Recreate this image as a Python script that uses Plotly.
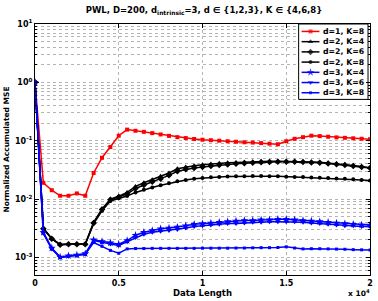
import plotly.graph_objects as go

# ---------------- data ----------------
data_length = list(range(0, 20001, 500))

mse_d1_k8 = [1, 0.019, 0.0142, 0.0114, 0.0114, 0.0125, 0.0114, 0.028, 0.051, 0.078,
             0.122, 0.155, 0.148, 0.142, 0.135, 0.128, 0.121, 0.115, 0.111, 0.107,
             0.104, 0.102, 0.100, 0.098, 0.096, 0.094, 0.093, 0.091, 0.089, 0.087,
             0.098, 0.108, 0.115, 0.122, 0.120, 0.117, 0.114, 0.112, 0.110, 0.108, 0.106]

mse_d2_k4 = [1, 0.0032, 0.0021, 0.00167, 0.0017, 0.0017, 0.0017, 0.0040, 0.0068, 0.0100,
             0.0112, 0.0130, 0.0165, 0.0190, 0.0215, 0.0245, 0.0280, 0.0330, 0.0355, 0.0372,
             0.0388, 0.0400, 0.0410, 0.0418, 0.0425, 0.0432, 0.0438, 0.0443, 0.0445, 0.0446,
             0.0445, 0.0442, 0.0437, 0.0432, 0.0426, 0.0415, 0.0402, 0.0388, 0.0375, 0.0360, 0.0345]

mse_d2_k6 = [1, 0.0031, 0.0021, 0.00165, 0.00168, 0.00168, 0.00168, 0.0039, 0.0066, 0.0097,
             0.0108, 0.0122, 0.0152, 0.0175, 0.0198, 0.0224, 0.0255, 0.0300, 0.0325, 0.0342,
             0.0356, 0.0370, 0.0382, 0.0393, 0.0403, 0.0412, 0.0420, 0.0427, 0.0432, 0.0435,
             0.0436, 0.0434, 0.0430, 0.0425, 0.0418, 0.0408, 0.0396, 0.0383, 0.0370, 0.0356, 0.0342]

mse_d2_k8 = [1, 0.0031, 0.0021, 0.00165, 0.00168, 0.00168, 0.00168, 0.0038, 0.0063, 0.0093,
             0.0103, 0.0113, 0.0130, 0.0145, 0.0158, 0.0172, 0.0186, 0.0203, 0.0213, 0.0222,
             0.0230, 0.0236, 0.0240, 0.0244, 0.0246, 0.0247, 0.0248, 0.0248, 0.0247, 0.0245,
             0.0242, 0.0240, 0.0238, 0.0235, 0.0232, 0.0229, 0.0225, 0.0222, 0.0218, 0.0213, 0.0208]

mse_d3_k4 = [1, 0.0027, 0.00145, 0.00102, 0.00107, 0.0011, 0.00116, 0.0020, 0.00188, 0.00178,
             0.00168, 0.00195, 0.0024, 0.0027, 0.0029, 0.0031, 0.0032, 0.0033, 0.0035, 0.0037,
             0.0038, 0.0039, 0.0040, 0.0041, 0.0042, 0.0043, 0.0043, 0.0044, 0.0044, 0.0045,
             0.0045, 0.0044, 0.0043, 0.0042, 0.0041, 0.0040, 0.0039, 0.0038, 0.0037, 0.0036, 0.0036]

mse_d3_k6 = [1, 0.0026, 0.0014, 0.0010, 0.00105, 0.00108, 0.00113, 0.00195, 0.0018, 0.0017,
             0.0016, 0.00185, 0.0022, 0.0025, 0.0027, 0.0028, 0.0029, 0.0030, 0.0032, 0.0034,
             0.0035, 0.0036, 0.0037, 0.0038, 0.0038, 0.0039, 0.0040, 0.0040, 0.0041, 0.0041,
             0.0041, 0.0041, 0.0040, 0.0039, 0.0038, 0.0037, 0.0036, 0.0035, 0.0035, 0.0034, 0.0034]

mse_d3_k8 = [1, 0.0026, 0.0014, 0.0010, 0.00105, 0.00108, 0.00113, 0.0018, 0.00155, 0.00132,
             0.00118, 0.0014, 0.00142, 0.00142, 0.00143, 0.00143, 0.00143, 0.00143, 0.00143, 0.00143,
             0.00144, 0.00144, 0.00144, 0.00144, 0.00145, 0.00145, 0.00146, 0.00147, 0.00147, 0.00148,
             0.00152, 0.00145, 0.0014, 0.00141, 0.00141, 0.0014, 0.00139, 0.00138, 0.00136, 0.00135, 0.00134]

series_names = ["d=1, K=8", "d=2, K=4", "d=2, K=6", "d=2, K=8",
                "d=3, K=4", "d=3, K=6", "d=3, K=8"]
series_values = [mse_d1_k8, mse_d2_k4, mse_d2_k6, mse_d2_k8,
                 mse_d3_k4, mse_d3_k6, mse_d3_k8]

x_tick_vals = [0, 5000, 10000, 15000, 20000]
x_tick_text = ["0", "0.5", "1", "1.5", "2"]
y_tick_vals = [1e-3, 1e-2, 1e-1, 1, 10]
y_tick_text = ["10<sup>-3</sup>", "10<sup>-2</sup>", "10<sup>-1</sup>", "10<sup>0</sup>", "10<sup>1</sup>"]

# ---------------- styles ----------------
styles = [
    dict(color="#ff0000", symbol="square", size=4),
    dict(color="#000000", symbol="triangle-up", size=5),
    dict(color="#000000", symbol="diamond", size=5),
    dict(color="#000000", symbol="circle", size=4),
    dict(color="#0000ff", symbol="star", size=6),
    dict(color="#0000ff", symbol="triangle-down", size=5),
    dict(color="#0000ff", symbol="square", size=3),
]

W, H = 378, 301
L, R, T, B = 35, 373, 24, 277
FONT = "DejaVu Sans"

fig = go.Figure()
for name, vals, st in zip(series_names, series_values, styles):
    fig.add_trace(go.Scatter(
        x=data_length, y=vals, mode="lines+markers", name=name, showlegend=False,
        line=dict(color=st["color"], width=1.5),
        marker=dict(color=st["color"], symbol=st["symbol"], size=st["size"],
                    line=dict(width=0)),
    ))

# ---------------- custom legend (matlab-like) ----------------
def px_x(p):
    return (p - L) / (R - L)

def px_y(p):
    return (B - p) / (B - T)

lg_x0, lg_x1, lg_y0, lg_y1 = 301, 371, 24, 100
fig.add_trace(go.Scatter(
    x=[px_x(lg_x0), px_x(lg_x1), px_x(lg_x1), px_x(lg_x0), px_x(lg_x0)],
    y=[px_y(lg_y0), px_y(lg_y0), px_y(lg_y1), px_y(lg_y1), px_y(lg_y0)],
    mode="lines", fill="toself", fillcolor="white",
    line=dict(color="black", width=1), xaxis="x2", yaxis="y2",
    hoverinfo="skip", showlegend=False))

for i, (name, st) in enumerate(zip(series_names, styles)):
    ry = 31.5 + 10.3 * i
    fig.add_trace(go.Scatter(
        x=[px_x(304), px_x(313), px_x(322)], y=[px_y(ry)] * 3,
        mode="lines+markers", xaxis="x2", yaxis="y2", showlegend=False,
        hoverinfo="skip",
        line=dict(color=st["color"], width=1.5),
        marker=dict(color=st["color"], symbol=st["symbol"], size=[0, st["size"], 0],
                    line=dict(width=0))))
    fig.add_annotation(x=px_x(324), y=px_y(ry), xref="paper", yref="paper",
                       text=name, showarrow=False, xanchor="left", yanchor="middle",
                       font=dict(family=FONT, size=7.8, color="black", weight="bold"))

# ---------------- layout ----------------
grid = dict(gridcolor="#b4b4b4", griddash="dot", gridwidth=1)
minor_vals = [m * 10.0 ** e for e in range(-4, 1) for m in range(2, 10)]

fig.update_layout(
    width=W, height=H,
    margin=dict(l=L, r=W - R, t=T, b=H - B, pad=0),
    paper_bgcolor="white", plot_bgcolor="white",
    font=dict(family=FONT, size=8, color="black", weight="bold"),
    title=dict(text="PWL, D=200, d<sub>intrinsic</sub>=3, d \u2208 {1,2,3}, K \u2208 {4,6,8}",
               x=(0.5 * (L + R)) / W, xanchor="center", y=1 - 10 / H, yanchor="middle",
               font=dict(family=FONT, size=8.5, weight="bold")),
    xaxis=dict(range=[0, 20000], tickvals=x_tick_vals, ticktext=x_tick_text,
               showline=True, linecolor="black", linewidth=1, mirror="ticks",
               ticks="inside", ticklen=4, tickcolor="black", zeroline=False,
               showgrid=True, **grid,
               title=dict(text="Data Length", standoff=2,
                          font=dict(family=FONT, size=8.5, weight="bold"))),
    yaxis=dict(type="log", range=[-3.30103, 1], tickvals=y_tick_vals, ticktext=y_tick_text,
               showline=True, linecolor="black", linewidth=1, mirror="ticks",
               ticks="inside", ticklen=4, tickcolor="black", zeroline=False,
               showgrid=True, **grid,
               minor=dict(tickvals=minor_vals, ticks="inside", ticklen=2,
                          tickcolor="black", showgrid=True,
                          gridcolor="#b4b4b4", griddash="dot", gridwidth=1),
               title=dict(text="Normalized Accumulated MSE", standoff=4,
                          font=dict(family=FONT, size=7.5, weight="bold"))),
    xaxis2=dict(overlaying="x", anchor="y2", range=[0, 1], visible=False),
    yaxis2=dict(overlaying="y", anchor="x2", range=[0, 1], visible=False),
)

fig.add_annotation(x=px_x(375), y=px_y(295), xref="paper", yref="paper", xanchor="right",
                   yanchor="middle", showarrow=False, text="x 10<sup>4</sup>",
                   font=dict(family=FONT, size=7.5, weight="bold"))

fig.write_html("out.html")
